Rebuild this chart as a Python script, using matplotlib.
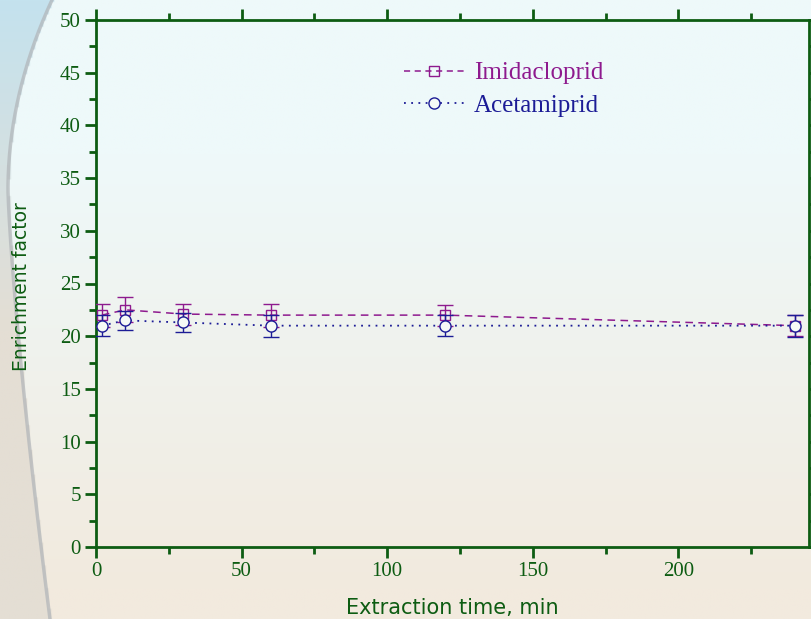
import numpy as np
import matplotlib
matplotlib.use("Agg")
import matplotlib.pyplot as plt
from matplotlib.ticker import MultipleLocator
from matplotlib.lines import Line2D

# ---- data ----
time_min = [2, 10, 30, 60, 120, 240]
imidacloprid = [22.0, 22.5, 22.1, 22.0, 22.0, 21.0]
imidacloprid_err = [1.1, 1.2, 1.0, 1.1, 1.0, 1.0]
acetamiprid = [21.0, 21.5, 21.3, 21.0, 21.0, 21.0]
acetamiprid_err = [1.0, 0.9, 0.9, 1.05, 1.0, 1.05]
series_names = ["Imidacloprid", "Acetamiprid"]
x_ticks = [0, 50, 100, 150, 200]
y_ticks = [0, 5, 10, 15, 20, 25, 30, 35, 40, 45, 50]

GREEN = "#0d5c12"
PURPLE = "#8e1a8e"
NAVY = "#1c1c96"

W, H = 812, 619
fig = plt.figure(figsize=(W / 100, H / 100), dpi=100)

# background gradient (decorative)
bg = fig.add_axes([0, 0, 1, 1], zorder=-10)
bg.axis("off")
yy, xx = np.mgrid[0:1:300j, 0:1:300j]
top = np.array([238, 249, 250]) / 255
bottom = np.array([242, 234, 222]) / 255
t = np.clip((yy - 0.25) / 0.7, 0, 1)[..., None]
img = top * (1 - t) + bottom * t
py = yy * H
px = xx * W
arc_x = np.where(py < 190, 8 + 44 * ((190 - py) / 190) ** 2,
                 8 + 42 * ((py - 190) / 429) ** 1.3)
inside = px < arc_x
blue = np.array([196, 226, 238]) / 255
grey = np.array([228, 222, 212]) / 255
wl = np.clip(1 - py / 330, 0, 1)[..., None]
side = blue * wl + grey * (1 - wl)
img = np.where(inside[..., None], side, img)
bg.imshow(img, extent=[0, W, H, 0], aspect="auto", origin="upper")
ay = np.linspace(0, H, 300)
ax_arc = np.where(ay < 190, 8 + 44 * ((190 - ay) / 190) ** 2,
                  8 + 42 * ((ay - 190) / 429) ** 1.3)
bg.plot(ax_arc, ay, color="#b0b4b8", lw=2.5, alpha=0.7)
bg.set_xlim(0, W)
bg.set_ylim(H, 0)

ax = fig.add_axes([96 / W, 1 - 547 / H, (809.5 - 96) / W, (547 - 20) / H])
ax.patch.set_alpha(0)

ax.errorbar(time_min, imidacloprid, yerr=imidacloprid_err, color=PURPLE,
            ls=(0, (5, 3.5)), lw=1.1, marker="s", ms=7, mfc="none", mec=PURPLE,
            mew=1.0, capsize=6, elinewidth=1.0, capthick=1.0, zorder=3)
ax.errorbar(time_min, acetamiprid, yerr=acetamiprid_err, color=NAVY,
            ls=(0, (1, 3)), lw=1.3, marker="o", ms=8, mfc="#f6faf6", mec=NAVY,
            mew=1.0, capsize=6, elinewidth=1.0, capthick=1.0, zorder=4)

handles = [
    Line2D([], [], color=PURPLE, ls=(0, (4, 3)), lw=1.1, marker="s", ms=7,
           mfc="none", mec=PURPLE),
    Line2D([], [], color=NAVY, ls=(0, (1, 3)), lw=1.3, marker="o", ms=8,
           mfc="#f6faf6", mec=NAVY),
]

ax.set_xlim(0, 245)
ax.set_ylim(0, 50)
ax.set_xticks(x_ticks)
ax.set_yticks(y_ticks)
ax.xaxis.set_minor_locator(MultipleLocator(25))
ax.yaxis.set_minor_locator(MultipleLocator(2.5))
for s in ax.spines.values():
    s.set_color(GREEN)
    s.set_linewidth(2)
ax.tick_params(which="both", direction="out", color=GREEN, width=2,
               top=True, right=True, labelcolor=GREEN, pad=3)
ax.tick_params(which="major", length=8)
ax.tick_params(which="minor", length=5)
for lab in ax.get_xticklabels() + ax.get_yticklabels():
    lab.set_fontfamily("Liberation Serif")
    lab.set_fontsize(15)

ax.set_xlabel("Extraction time, min", fontsize=15, color=GREEN,
              family="DejaVu Sans", labelpad=12)
ax.set_ylabel("Enrichment factor", fontsize=13.5, color=GREEN,
              family="DejaVu Sans")
ax.yaxis.set_label_coords(31 / W, (619 - 287) / 619, transform=fig.transFigure)

leg = ax.legend(handles, series_names, loc="upper left",
                bbox_to_anchor=(404 / W, 1 - 62 / H),
                bbox_transform=fig.transFigure, frameon=False,
                prop={"family": "Liberation Serif", "size": 18},
                handlelength=2.4, handletextpad=0.4, labelspacing=0.4,
                borderaxespad=0, borderpad=0)
for txt, c in zip(leg.get_texts(), [PURPLE, NAVY]):
    txt.set_color(c)

fig.savefig("out.png", dpi=100)
